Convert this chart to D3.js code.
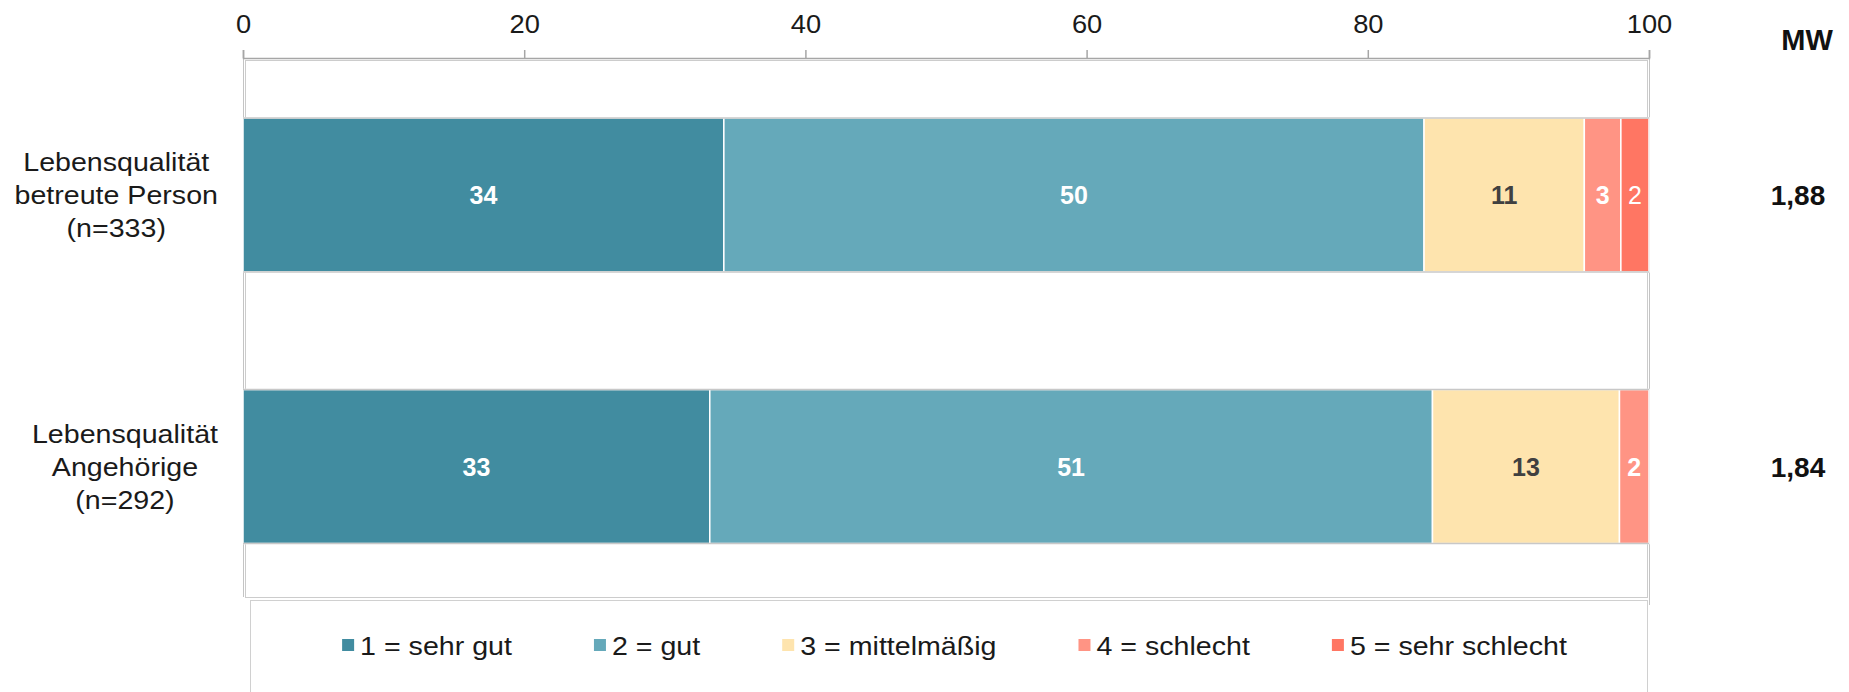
<!DOCTYPE html>
<html lang="de">
<head>
<meta charset="utf-8">
<title>Lebensqualität</title>
<script src="https://cdn.jsdelivr.net/npm/d3@7"></script>
<style>
  html, body { margin: 0; padding: 0; background: #fff; }
  svg { display: block; font-family: "Liberation Sans", Arial, sans-serif; }
</style>
</head>
<body>
<svg id="chart" width="1849" height="692"></svg>
<script>
// Category rows (label lines) and rating series (percent of respondents)
const categories = ["betreute Person", "Angehörige"];
const categoryLines = [
  ["Lebensqualität", "betreute Person", "(n=333)"],
  ["Lebensqualität", "Angehörige", "(n=292)"]
];
const ratingNames = ["1 = sehr gut", "2 = gut", "3 = mittelmäßig", "4 = schlecht", "5 = sehr schlecht"];
const sehrGut      = [34.2, 33.2];
const gut          = [49.8, 51.4];
const mittelmaessig = [11.4, 13.3];
const schlecht     = [2.6, 2.1];
const sehrSchlecht = [2.0, 0];
const meanValues   = [1.88, 1.84];
const tickValues   = [0, 20, 40, 60, 80, 100];

const seriesValues = [sehrGut, gut, mittelmaessig, schlecht, sehrSchlecht];
const colors = ["#418ca0", "#65a9ba", "#fee4ae", "#ff9484", "#ff7663"];
const labelColors = ["#ffffff", "#ffffff", "#404040", "#ffffff", "#ffffff"];
const labelWeights = ["bold", "bold", "bold", "bold", "normal"];

const svg = d3.select("#chart");
const FONT_SX = 1.1;          // text in this chart is set slightly wide

// layout
const plot = { left: 245, right: 1647, top: 60, bottom: 597 };
const x = d3.scaleLinear().domain([0, 100]).range([243, 1649]);
const y = d3.scaleBand().domain(categories).range([plot.top, plot.bottom])
  .paddingInner(0.433).paddingOuter(0.205).align(0.52);

// table for stacking
const rows = categories.map((c, i) => {
  const r = { cat: c };
  ratingNames.forEach((n, k) => r[n] = seriesValues[k][i]);
  return r;
});
const stack = d3.stack().keys(ratingNames)(rows);

// plot frame
svg.append("rect")
  .attr("x", plot.left + 0.5).attr("y", plot.top + 0.5)
  .attr("width", plot.right - plot.left).attr("height", plot.bottom - plot.top)
  .attr("fill", "none").attr("stroke", "#cccccc").attr("stroke-width", 1);

// outer vertical frame lines at 0 and 100
[0, 100].forEach(v => {
  svg.append("line")
    .attr("x1", x(v) + 0.5).attr("x2", x(v) + 0.5)
    .attr("y1", 50).attr("y2", v === 0 ? 597 : 605)
    .attr("stroke", "#c4c4c4").attr("stroke-width", 1);
});

// legend frame
svg.append("rect")
  .attr("x", 250.5).attr("y", 600.5)
  .attr("width", plot.right - 250).attr("height", 140)
  .attr("fill", "#fff").attr("stroke", "#d0d0d0").attr("stroke-width", 1);

// top axis
const axis = svg.append("g")
  .attr("transform", "translate(0,58)")
  .call(d3.axisTop(x).tickValues(tickValues).tickSize(8).tickPadding(17).tickFormat(d3.format("d")));
axis.select(".domain").attr("stroke", "#a6a6a6").attr("stroke-width", 1.5);
axis.selectAll(".tick line").attr("stroke", "#a6a6a6").attr("stroke-width", 1.5);
axis.selectAll(".tick text")
  .attr("font-size", 26).attr("fill", "#1a1a1a")
  .attr("font-family", "'Liberation Sans', Arial, sans-serif")
  .attr("transform", "scale(1.05,1)");

// stacked bars
const layers = svg.append("g").selectAll("g").data(stack).join("g")
  .attr("fill", (d, i) => colors[i]);

layers.selectAll("rect").data(d => d).join("rect")
  .attr("x", d => x(d[0]))
  .attr("y", d => y(d.data.cat))
  .attr("width", d => Math.max(0, x(d[1]) - x(d[0])))
  .attr("height", y.bandwidth())
  .attr("stroke", "#ffffff").attr("stroke-width", 1.5);

// bar outlines (top and bottom edges)
categories.forEach(c => {
  [y(c), y(c) + y.bandwidth()].forEach(yy => {
    svg.append("line")
      .attr("x1", x(0)).attr("x2", x(100))
      .attr("y1", yy).attr("y2", yy)
      .attr("stroke", "#c8c8c8").attr("stroke-width", 1.5);
  });
});

// value labels inside segments
stack.forEach((layer, k) => {
  svg.append("g").selectAll("text").data(layer.filter(d => d[1] - d[0] >= 0.5)).join("text")
    .attr("x", d => x((d[0] + d[1]) / 2))
    .attr("y", d => y(d.data.cat) + y.bandwidth() / 2 + 9)
    .attr("text-anchor", "middle")
    .attr("font-size", 25)
    .attr("font-weight", labelWeights[k])
    .attr("fill", labelColors[k])
    .text(d => d3.format(".0f")(d[1] - d[0]));
});

// category labels, lines centred within a right-aligned block
const catG = svg.append("g");
categoryLines.forEach((lines, i) => {
  const cy = y(categories[i]) + y.bandwidth() / 2;
  const lh = 33;
  const g = catG.append("g");
  const texts = lines.map((ln, j) => g.append("text")
    .attr("text-anchor", "middle")
    .attr("font-size", 26).attr("fill", "#1a1a1a")
    .text(ln));
  const maxW = d3.max(texts, t => t.node().getComputedTextLength()) * FONT_SX;
  const cx = 218 - maxW / 2;
  texts.forEach((t, j) => {
    const by = cy + (j - (lines.length - 1) / 2) * lh + 9;
    t.attr("transform", `translate(${cx},${by}) scale(${FONT_SX},1)`);
  });
});

// mean value column
svg.append("text")
  .attr("x", 1807).attr("y", 50)
  .attr("text-anchor", "middle")
  .attr("font-size", 29).attr("font-weight", "bold").attr("fill", "#111")
  .text("MW");
svg.append("g").selectAll("text").data(meanValues).join("text")
  .attr("x", 1798)
  .attr("y", (d, i) => y(categories[i]) + y.bandwidth() / 2 + 10)
  .attr("text-anchor", "middle")
  .attr("font-size", 28).attr("font-weight", "bold").attr("fill", "#111")
  .text(d => d3.format(".2f")(d).replace(".", ","));

// legend
const legend = svg.append("g");
const items = ratingNames.map((name, i) => {
  const g = legend.append("g");
  g.append("rect").attr("x", 0).attr("y", -6).attr("width", 12).attr("height", 12)
    .attr("fill", colors[i]);
  const t = g.append("text")
    .attr("transform", `translate(18,10) scale(${FONT_SX},1)`)
    .attr("font-size", 26).attr("fill", "#1a1a1a")
    .text(name);
  return { g, w: 18 + t.node().getComputedTextLength() * FONT_SX };
});
const gap = 82;
const total = d3.sum(items, d => d.w) + gap * (items.length - 1);
let lx = (250 + plot.right) / 2 + 6 - total / 2;
items.forEach(it => {
  it.g.attr("transform", `translate(${lx},645)`);
  lx += it.w + gap;
});
</script>
</body>
</html>
